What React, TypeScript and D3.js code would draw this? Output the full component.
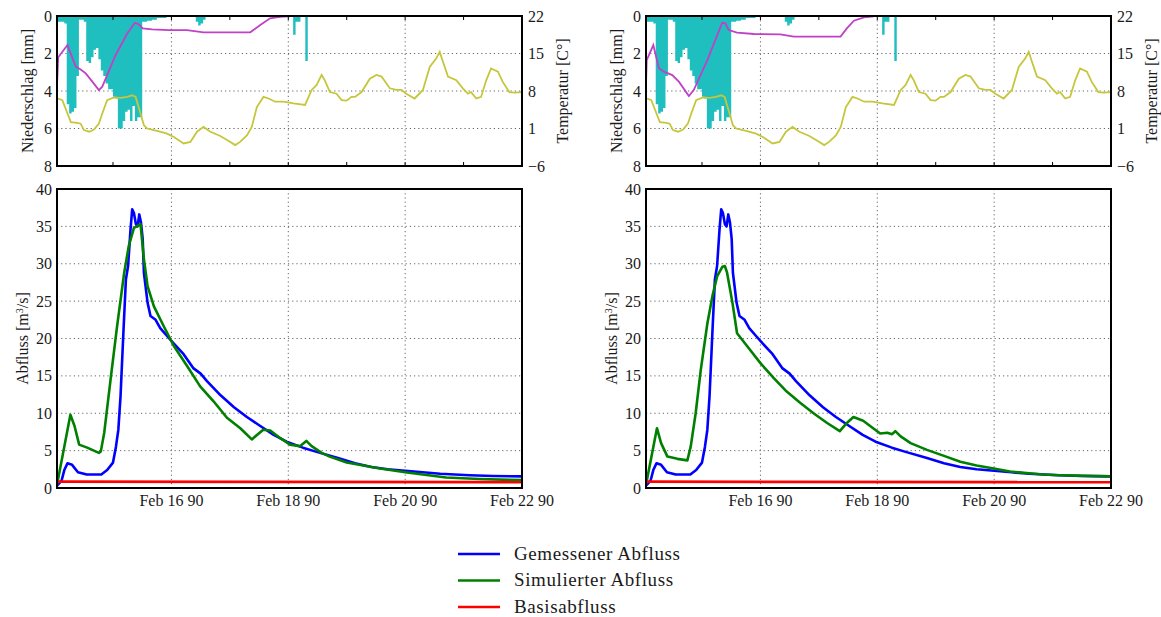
import React from 'react';
import * as d3 from 'd3';

// Time origin of all series: Feb 14 1990 01:00 (UTC); times are hours since then
const START = Date.UTC(1990, 1, 14, 1);
const END_HOURS = 191;
const xTickDates = ['1990-02-16', '1990-02-18', '1990-02-20', '1990-02-22'];
const xGridDates = ['1990-02-16', '1990-02-18', '1990-02-20'];
const xMinorDates = ['1990-02-15', '1990-02-16', '1990-02-17', '1990-02-18', '1990-02-19', '1990-02-20', '1990-02-21'];

const precipTicks = [0, 2, 4, 6, 8];
const tempTicks = [22, 15, 8, 1, -6];
const flowTicks = [0, 5, 10, 15, 20, 25, 30, 35, 40];

// Hourly precipitation [hour, mm] (hours not listed had no precipitation)
const niederschlag: [number, number][] = [
  [0, 0.3], [1, 0.3], [2, 0.3], [3, 0.4], [4, 4.7], [5, 5.2], [6, 5.1], [7, 4.9], [8, 3.2],
  [9, 0.2], [10, 0.2], [11, 0.3], [12, 2.4], [13, 2.5], [14, 2.2], [15, 1.8], [16, 1.7],
  [17, 2.3], [18, 2.9], [19, 3.2], [20, 3.6], [21, 3.9], [22, 3.9], [23, 4.3], [24, 4.4],
  [25, 6.0], [26, 6.0], [27, 5.6], [28, 5.1], [29, 5.0], [30, 5.6], [31, 4.8], [32, 5.6],
  [33, 5.4], [34, 5.4], [35, 0.3], [36, 0.3], [37, 0.25], [38, 0.25], [39, 0.2], [40, 0.2],
  [41, 0.1], [42, 0.1], [43, 0.1], [44, 0.1], [57, 0.3], [58, 0.5], [59, 0.4], [60, 0.2],
  [97, 1.0], [98, 0.3], [99, 0.3], [102, 2.4],
];

// Air temperature [hour, °C]
const temperatur: [number, number][] = [
  [0.4, 6.6], [2.2, 6.3], [4.3, 3.8], [5.7, 2.2], [8.4, 2.05], [9.7, 1.9], [11.1, 0.7], [13.2, 0.4],
  [15.2, 0.8], [17.2, 1.9], [18.6, 3.8], [20.6, 6.3], [23.4, 6.8], [26.1, 6.7], [28.8, 6.9], [30.9, 7.2],
  [32.3, 6.9], [34.3, 3.8], [35.7, 1.6], [37.0, 1.0], [41.1, 0.55], [45.2, 0.05], [48.0, -0.6], [52.0, -1.8],
  [54.8, -1.5], [57.5, 0.4], [60.2, 1.3], [63.0, 0.4], [67.1, -0.4], [71.2, -1.5], [73.2, -2.1], [75.2, -1.5],
  [78.0, -0.3], [80.0, 1.3], [82.1, 5.0], [84.8, 6.9], [86.9, 6.6], [89.6, 6.0], [93.0, 6.0], [97.1, 5.7],
  [101.9, 5.4], [104.6, 8.2], [106.6, 9.1], [108.7, 11.0], [110.0, 10.0], [112.1, 7.8], [114.8, 7.5],
  [116.9, 6.3], [118.9, 6.2], [121.0, 6.9], [122.4, 6.9], [125.1, 7.8], [128.5, 10.3], [131.2, 11.0],
  [133.3, 10.7], [136.7, 8.5], [139.4, 8.2], [141.5, 8.2], [143.5, 7.5], [146.9, 6.6], [150.3, 8.2],
  [153.1, 12.5], [155.8, 14.1], [157.2, 15.3], [158.5, 13.5], [160.6, 10.7], [164.0, 10.0], [166.7, 8.5],
  [168.8, 7.5], [170.1, 7.8], [172.2, 6.6], [174.2, 6.9], [176.3, 10.0], [178.3, 12.2], [181.1, 11.6],
  [183.1, 9.7], [185.8, 7.8], [187.9, 7.7], [190.9, 7.8],
];

// Magenta model state line (left / right model run) [hour, mm]
const zustandLinks: [number, number][] = [
  [0, 3.7], [0.5, 2.2], [4.3, 1.55], [5.6, 1.99], [7.7, 2.7], [9.7, 2.85], [11.8, 3.06], [14.5, 3.5],
  [17.2, 3.95], [18.6, 3.77], [24.1, 2.08], [28.9, 0.92], [32.0, 0.36], [33.4, 0.43], [35.2, 0.66],
  [39.1, 0.71], [45.9, 0.75], [53.4, 0.75], [60.2, 0.87], [79.4, 0.87], [83.5, 0.48], [87.5, 0.12],
  [91.6, 0.04], [96.4, 0.0],
];
const zustandRechts: [number, number][] = [
  [0, 3.6], [0.3, 2.35], [3.0, 1.55], [5.3, 2.79], [7.3, 2.97], [10.8, 3.15], [13.5, 3.5], [17.6, 4.27],
  [19.6, 3.95], [25.2, 2.35], [31.3, 0.36], [32.6, 0.39], [34.0, 0.75], [37.4, 0.89], [44.4, 0.96],
  [55.2, 0.98], [60.7, 1.1], [79.9, 1.1], [82.5, 0.66], [85.4, 0.25], [89.5, 0.07], [93.6, 0.02],
];

// Measured discharge [hour, m3/s]
const gemessen: [number, number][] = [
  [0, 0.3], [1.9, 1.0], [3.0, 2.4], [4.3, 3.3], [6.2, 3.1], [8.6, 2.1], [12.2, 1.8], [18.2, 1.8],
  [20.6, 2.4], [23.0, 3.4], [24.2, 5.5], [25.2, 7.8], [26.1, 12.3], [27.3, 21], [28.3, 27.9], [29.2, 29.7],
  [30.2, 34.6], [30.9, 37.3], [31.6, 36.8], [32.4, 35.3], [33.1, 35], [33.8, 36.6], [34.5, 35.5],
  [35.2, 33.3], [35.7, 28.8], [37.2, 24.8], [38.4, 23], [40.5, 22.5], [42.4, 21.4], [45.3, 20.3],
  [48, 19.3], [52, 17.9], [56.1, 16.0], [59, 15.3], [61.6, 14.3], [67.2, 12.4], [72.7, 10.8], [78, 9.5],
  [83.5, 8.3], [89, 7.1], [94.3, 6.2], [101, 5.4], [107, 4.8], [115.4, 4.0], [122.4, 3.3], [129.1, 2.8],
  [135.8, 2.5], [143, 2.3], [150.2, 2.1], [157.4, 1.9], [169.4, 1.7], [179, 1.6], [191, 1.55],
];

// Simulated discharge, left and right model runs [hour, m3/s]
const simuliertLinks: [number, number][] = [
  [0, 0.5], [0.4, 1.1], [5.5, 9.8], [7.2, 8.3], [9.1, 5.8], [12.4, 5.4], [17.2, 4.7], [18.0, 4.9],
  [19.4, 7.4], [22.0, 14.5], [24.7, 21.7], [27.6, 28.8], [29.5, 32.4], [31.6, 34.8], [32.8, 35],
  [34.3, 35.3], [35.7, 30.6], [37.2, 27], [39.8, 24.3], [43.9, 21.6], [48, 19], [53.5, 16.3], [58.8, 13.6],
  [64.3, 11.6], [69.8, 9.4], [75.3, 8.0], [80, 6.5], [84.7, 7.8], [87.6, 7.7], [91.6, 6.7], [95.7, 5.8],
  [99.8, 5.6], [102.4, 6.3], [104.6, 5.6], [108.7, 4.7], [112, 4.2], [119, 3.4], [132.7, 2.6],
  [143, 2.1], [159.8, 1.4], [173.5, 1.2], [191, 1.05],
];
const simuliertRechts: [number, number][] = [
  [0, 0.5], [0.4, 1.1], [4.5, 8.0], [6.2, 6.0], [8.8, 4.2], [12.9, 3.9], [17.0, 3.7], [18.4, 5.6],
  [20.4, 10], [22.5, 15.8], [25.2, 22], [27.3, 25.7], [29.2, 28.3], [31.4, 29.6], [32.4, 29.7],
  [33.3, 28.8], [35.5, 24.8], [37.4, 20.7], [41.5, 19], [47, 16.7], [52.5, 14.7], [57.8, 12.9],
  [63.3, 11.4], [68.8, 10], [74.4, 8.7], [79.6, 7.6], [82.5, 8.7], [85.2, 9.5], [89.2, 9.0], [93.3, 8.0],
  [96.2, 7.3], [99.1, 7.4], [101.1, 7.2], [102.4, 7.6], [104.6, 6.9], [108.7, 6.0], [115.4, 5.1],
  [122.4, 4.3], [129.1, 3.5], [135.8, 3.0], [142.8, 2.6], [149.5, 2.2], [156.4, 2.0], [163.2, 1.8],
  [170.1, 1.7], [176.8, 1.65], [191, 1.56],
];

// Base flow [hour, m3/s]
const basis: [number, number][] = [[0, 0.85], [191, 0.78]];

const legendItems = [
  { label: 'Gemessener Abfluss', color: '#0000ff' },
  { label: 'Simulierter Abfluss', color: '#008000' },
  { label: 'Basisabfluss', color: '#ff0000' },
];

const FONT = "'Liberation Serif', 'Times New Roman', serif";
const FS = 16;
const TXT = '#1a1a1a';
const C_BAR = '#1fbfbf';
const C_MAG = '#c040c8';
const C_YEL = '#c6c63c';

const hourDate = (h: number) => new Date(START + h * 3600e3);

// full hourly step series built from the sparse list (missing hours = 0 mm)
const precipSeries: [number, number][] = (() => {
  const m = new Map(niederschlag.map(([h, v]) => [h, v] as [number, number]));
  const out: [number, number][] = [];
  for (let h = 0; h <= END_HOURS; h++) out.push([h, m.get(h) ?? 0]);
  return out;
})();

type PanelProps = { left: number; right: number; sim: [number, number][]; mag: [number, number][] };

function Panel({ left, right, sim, mag }: PanelProps) {
  const x = d3.scaleUtc().domain([hourDate(0), hourDate(END_HOURS)]).range([left, right]);
  const xh = (h: number) => x(hourDate(h));
  const topY0 = 16, topY1 = 166, botY0 = 189, botY1 = 488;
  const yP = d3.scaleLinear().domain([0, 8]).range([topY0, topY1]);
  const yT = d3.scaleLinear().domain([-6, 22]).range([topY1, topY0]);
  const yQ = d3.scaleLinear().domain([0, 40]).range([botY1, botY0]);
  const fmt = d3.utcFormat('%b %d %y');

  const precipArea = d3.area<[number, number]>()
    .curve(d3.curveStepAfter)
    .x(d => xh(d[0]))
    .y0(() => yP(0))
    .y1(d => yP(d[1]));
  const magLine = d3.line<[number, number]>().x(d => xh(d[0])).y(d => yP(d[1]));
  const tLine = d3.line<[number, number]>().x(d => xh(d[0])).y(d => yT(d[1]));
  const qLine = d3.line<[number, number]>().x(d => xh(d[0])).y(d => yQ(d[1]));

  const grid = { stroke: '#666', strokeWidth: 1, strokeDasharray: '1.2,3' };
  const dates = (arr: string[]) => arr.map(s => new Date(s + 'T00:00:00Z'));

  return (
    <g>
      <defs>
        <clipPath id={`clipTop${left}`}>
          <rect x={left} y={topY0} width={right - left} height={topY1 - topY0} />
        </clipPath>
        <clipPath id={`clipBot${left}`}>
          <rect x={left} y={botY0} width={right - left} height={botY1 - botY0} />
        </clipPath>
      </defs>

      {/* ---------- top panel ---------- */}
      {[2, 4, 6].map(v => (
        <line key={'hg' + v} x1={left} x2={right} y1={yP(v)} y2={yP(v)} {...grid} />
      ))}
      {dates(xGridDates).map((d, i) => (
        <line key={'vg' + i} x1={x(d)} x2={x(d)} y1={topY0} y2={topY1} {...grid} />
      ))}
      <g clipPath={`url(#clipTop${left})`}>
        <path d={precipArea(precipSeries) || ''} fill={C_BAR} stroke="none" />
        <path d={magLine(mag) || ''} fill="none" stroke={C_MAG} strokeWidth={1.8} />
        <path d={tLine(temperatur) || ''} fill="none" stroke={C_YEL} strokeWidth={1.8} />
      </g>
      {dates(xMinorDates).map((d, i) => (
        <g key={'mt' + i}>
          <line x1={x(d)} x2={x(d)} y1={topY1} y2={topY1 - 4} stroke="#000" strokeWidth={1} />
          <line x1={x(d)} x2={x(d)} y1={topY0} y2={topY0 + 4} stroke="#000" strokeWidth={1} />
        </g>
      ))}
      <rect x={left} y={topY0} width={right - left} height={topY1 - topY0} fill="none" stroke="#000" strokeWidth={2} />
      {precipTicks.map(v => (
        <text key={'pt' + v} x={left - 5} y={yP(v)} dy="0.35em" textAnchor="end" fontFamily={FONT} fontSize={FS} fill={TXT}>{v}</text>
      ))}
      {tempTicks.map(v => (
        <text key={'tt' + v} x={right + 6} y={yT(v)} dy="0.35em" textAnchor="start" fontFamily={FONT} fontSize={FS} fill={TXT}>{v < 0 ? '\u2212' + Math.abs(v) : v}</text>
      ))}
      <text transform={`translate(${left - 30},${(topY0 + topY1) / 2}) rotate(-90)`} textAnchor="middle" dy="0.35em" fontFamily={FONT} fontSize={FS} fill={TXT}>Niederschlag [mm]</text>
      <text transform={`translate(${right + 40},${(topY0 + topY1) / 2}) rotate(-90)`} textAnchor="middle" dy="0.35em" fontFamily={FONT} fontSize={FS} fill={TXT}>Temperatur [C°]</text>

      {/* ---------- bottom panel ---------- */}
      {flowTicks.filter(v => v > 0 && v < 40).map(v => (
        <line key={'qg' + v} x1={left} x2={right} y1={yQ(v)} y2={yQ(v)} {...grid} />
      ))}
      {dates(xGridDates).map((d, i) => (
        <line key={'bvg' + i} x1={x(d)} x2={x(d)} y1={botY0} y2={botY1} {...grid} />
      ))}
      <g clipPath={`url(#clipBot${left})`}>
        <path d={qLine(gemessen) || ''} fill="none" stroke="#0000ff" strokeWidth={2.6} strokeLinejoin="round" />
        <path d={qLine(sim) || ''} fill="none" stroke="#008000" strokeWidth={2.6} strokeLinejoin="round" />
        <path d={qLine(basis) || ''} fill="none" stroke="#ff0000" strokeWidth={2.8} />
      </g>
      <rect x={left} y={botY0} width={right - left} height={botY1 - botY0} fill="none" stroke="#000" strokeWidth={2} />
      {flowTicks.map(v => (
        <text key={'qt' + v} x={left - 5} y={yQ(v)} dy="0.35em" textAnchor="end" fontFamily={FONT} fontSize={FS} fill={TXT}>{v}</text>
      ))}
      {dates(xTickDates).map((d, i) => (
        <text key={'xt' + i} x={x(d)} y={506} textAnchor="middle" fontFamily={FONT} fontSize={FS} fill={TXT}>{fmt(d)}</text>
      ))}
      <text transform={`translate(${left - 35},${(botY0 + botY1) / 2}) rotate(-90)`} textAnchor="middle" dy="0.35em" fontFamily={FONT} fontSize={FS} fill={TXT}>Abfluss [m<tspan dy="-5" fontSize={10}>3</tspan><tspan dy="5">/s]</tspan></text>
    </g>
  );
}

export default function App() {
  return (
    <svg width={1161} height={617} style={{ position: 'absolute', left: 0, top: 0, background: '#fff' }}>
      <rect x={0} y={0} width={1161} height={617} fill="#fff" />
      <Panel left={57} right={522} sim={simuliertLinks} mag={zustandLinks} />
      <Panel left={646} right={1111} sim={simuliertRechts} mag={zustandRechts} />
      {legendItems.map((it, i) => (
        <g key={it.label}>
          <line x1={458} x2={500} y1={554 + i * 26.5} y2={554 + i * 26.5} stroke={it.color} strokeWidth={2.6} />
          <text x={514} y={553 + i * 26.5} dy="0.35em" fontFamily={FONT} fontSize={19} letterSpacing={0.6} fill={TXT}>{it.label}</text>
        </g>
      ))}
    </svg>
  );
}
